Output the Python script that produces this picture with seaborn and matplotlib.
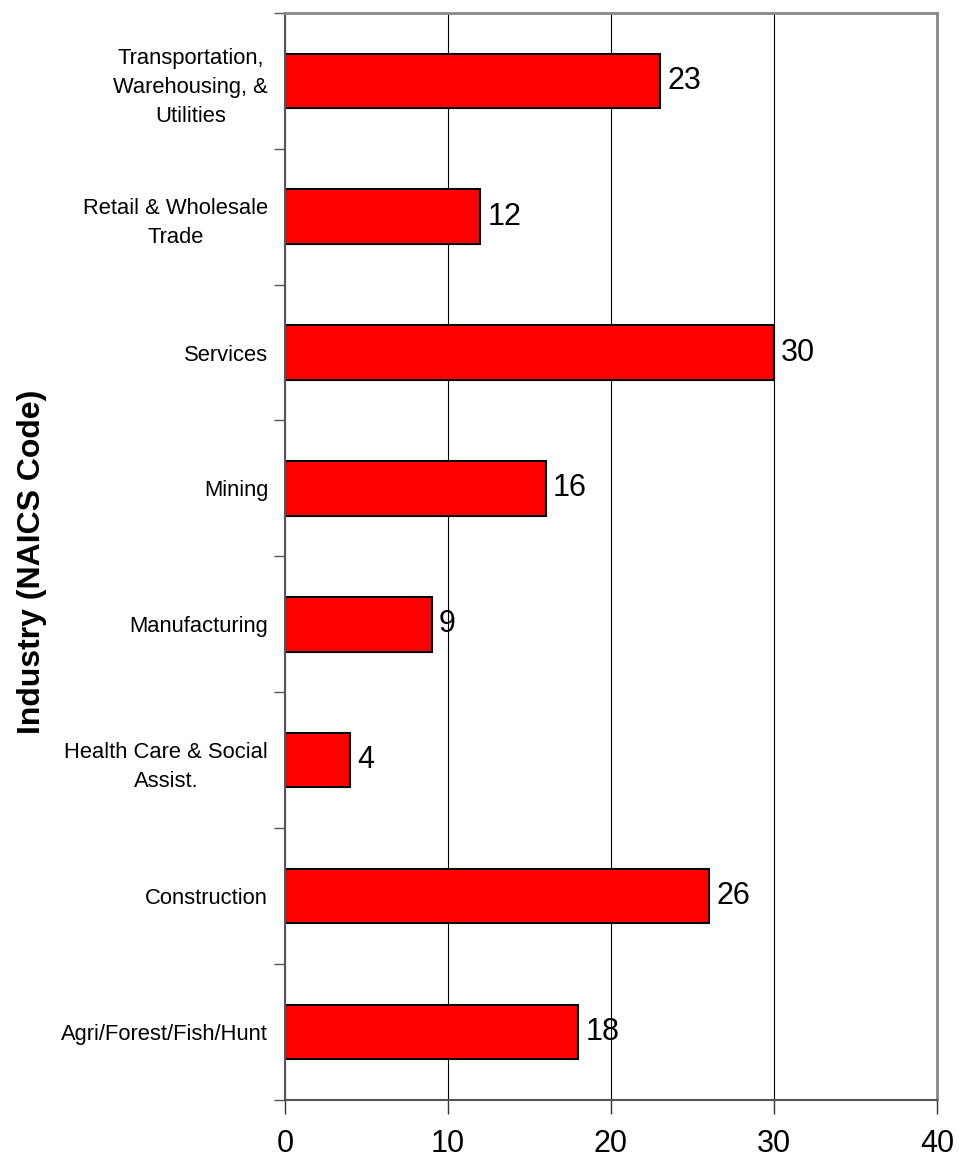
import matplotlib
matplotlib.use("Agg")
import matplotlib.pyplot as plt
import seaborn as sns
import pandas as pd

industries = [
    "Transportation,\nWarehousing, &\nUtilities",
    "Retail & Wholesale\nTrade",
    "Services",
    "Mining",
    "Manufacturing",
    "Health Care & Social\nAssist.",
    "Construction",
    "Agri/Forest/Fish/Hunt",
]
counts = [23, 12, 30, 16, 9, 4, 26, 18]
x_ticks = [0, 10, 20, 30, 40]

df = pd.DataFrame({"industry": industries, "count": counts})

sns.set_style("white")
plt.rcParams["font.family"] = ["Liberation Sans", "DejaVu Sans"]
plt.rcParams["text.color"] = "black"
plt.rcParams["xtick.color"] = "black"
plt.rcParams["ytick.color"] = "black"
plt.rcParams["axes.labelcolor"] = "black"

fig = plt.figure(figsize=(9.59, 11.61), dpi=100)
ax = fig.add_axes([0.297, 0.0525, 0.68, 0.9365])

sns.barplot(data=df, x="count", y="industry", orient="h", color="#ff0000",
            edgecolor="black", linewidth=1.5, width=0.4, saturation=1, ax=ax)

ax.set_xlim(0, 40)
ax.set_ylim(len(industries) - 0.5, -0.5)
ax.set_xticks(x_ticks)
ax.set_xticklabels([str(t) for t in x_ticks], fontsize=22)
ax.tick_params(axis="x", length=10, width=1, color="#333333", pad=11, direction="out", bottom=True)

ax.set_yticks(range(len(industries)))
ax.set_yticklabels(industries, fontsize=15.8, linespacing=1.5, ha="right",
                   multialignment="center")
ax.tick_params(axis="y", length=0, pad=12)
ax.set_yticks([i - 0.5 for i in range(len(industries) + 1)], minor=True)
ax.tick_params(axis="y", which="minor", length=8, width=1, color="#555555", left=True)

ax.grid(axis="x", color="black", linewidth=0.8)
ax.set_axisbelow(True)
for s in ["left", "bottom"]:
    ax.spines[s].set_color("#555555")
    ax.spines[s].set_linewidth(1.5)
for s in ["top", "right"]:
    ax.spines[s].set_color("#888888")
    ax.spines[s].set_linewidth(2)

for i, v in enumerate(counts):
    ax.text(v + 0.45, i, str(v), va="center", ha="left", fontsize=22)

ax.set_xlabel("")
ax.set_ylabel("Industry (NAICS Code)", fontsize=23, fontweight="bold")
ax.yaxis.set_label_coords(-0.365, 0.495)

fig.savefig("out.png", dpi=100)
